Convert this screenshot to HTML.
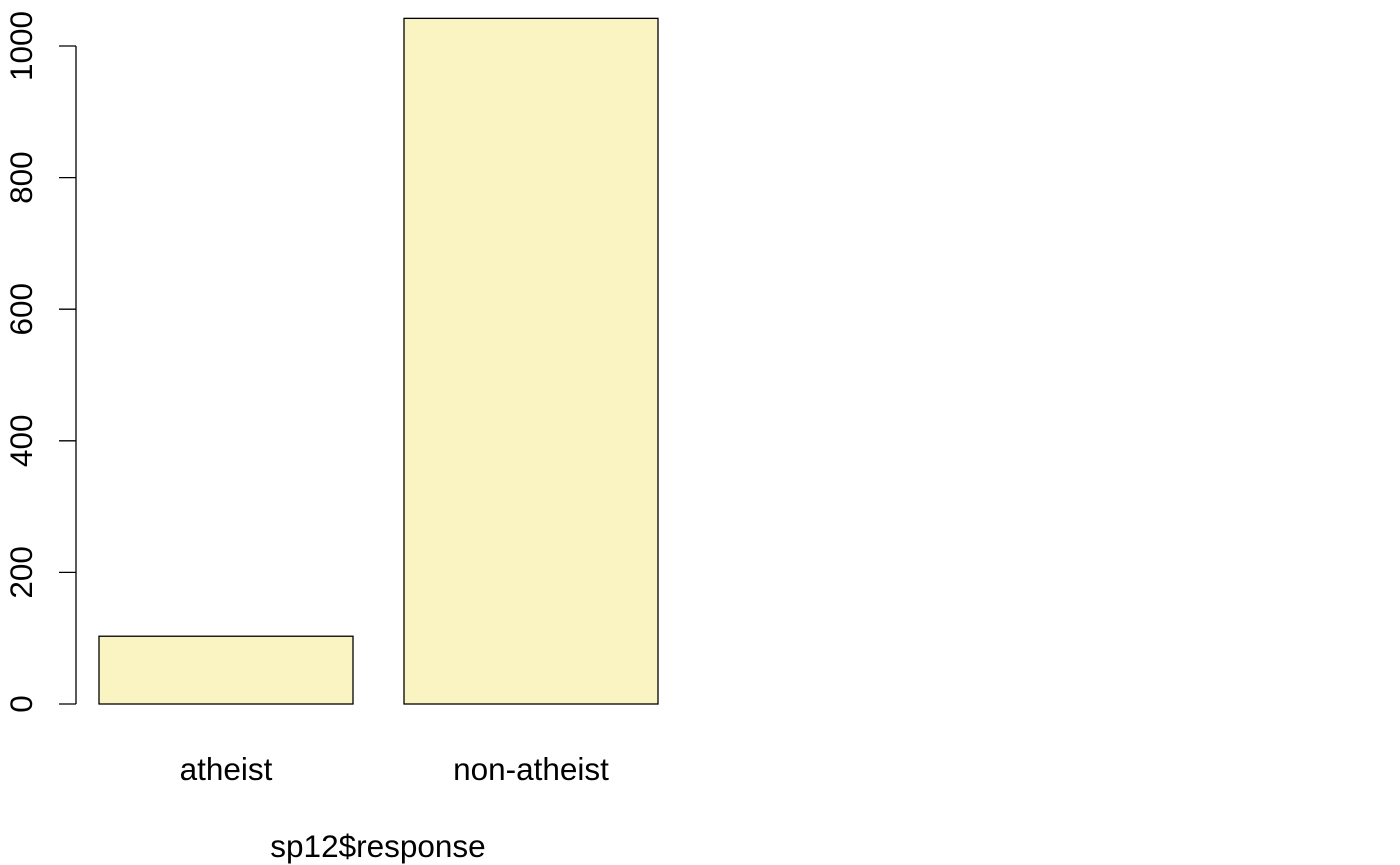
<!DOCTYPE html>
<html><head><meta charset="utf-8"><style>
html,body{margin:0;padding:0;background:#fff;}
svg{display:block;font-family:"Liberation Sans",Arial,sans-serif;}
</style></head><body>
<svg id="chart" width="1400" height="865" viewBox="0 0 1400 865">
<g id="bars"></g>
<g id="yaxis"></g>
<g id="xlabels"></g>
<text x="378" y="857" font-size="31.5" text-anchor="middle">sp12$response</text>
</svg>
<script>
const categories = ["atheist", "non-atheist"];
const counts = [103, 1042];
const yTicks = [0, 200, 400, 600, 800, 1000];

const NS = "http://www.w3.org/2000/svg";
const y0 = 704, pxPerUnit = 0.658;
function yScale(v){ return y0 - v * pxPerUnit; }
const barW = 254, gap = 51, xStart = 99;
function xLeft(i){ return xStart + i * (barW + gap); }

const bars = document.getElementById('bars');
const xl = document.getElementById('xlabels');
categories.forEach((c, i) => {
  const r = document.createElementNS(NS, 'rect');
  r.setAttribute('x', xLeft(i));
  r.setAttribute('y', yScale(counts[i]));
  r.setAttribute('width', barW);
  r.setAttribute('height', y0 - yScale(counts[i]));
  r.setAttribute('fill', '#FAF4C2');
  r.setAttribute('stroke', '#000');
  r.setAttribute('stroke-width', '1.3');
  
  
  bars.appendChild(r);
  const t = document.createElementNS(NS, 'text');
  t.setAttribute('x', xLeft(i) + barW / 2);
  t.setAttribute('y', 780);
  t.setAttribute('font-size', '31.5');
  t.setAttribute('text-anchor', 'middle');
  t.textContent = c;
  
  
  xl.appendChild(t);
});

const ya = document.getElementById('yaxis');
const axisX = 76;
const line = document.createElementNS(NS, 'line');
line.setAttribute('x1', axisX); line.setAttribute('x2', axisX);
line.setAttribute('y1', yScale(yTicks[0])); line.setAttribute('y2', yScale(yTicks[yTicks.length - 1]));
line.setAttribute('stroke', '#000'); line.setAttribute('stroke-width', '1.3');


ya.appendChild(line);
yTicks.forEach(v => {
  const y = yScale(v);
  const tk = document.createElementNS(NS, 'line');
  tk.setAttribute('x1', axisX - 17); tk.setAttribute('x2', axisX);
  tk.setAttribute('y1', y); tk.setAttribute('y2', y);
  tk.setAttribute('stroke', '#000'); tk.setAttribute('stroke-width', '1.3');
  
  
  ya.appendChild(tk);
  const t = document.createElementNS(NS, 'text');
  t.setAttribute('transform', 'translate(32,' + y + ') rotate(-90)');
  t.setAttribute('font-size', '31.5');
  t.setAttribute('text-anchor', 'middle');
  t.textContent = v;
  
  
  ya.appendChild(t);
});
</script>
</body></html>
